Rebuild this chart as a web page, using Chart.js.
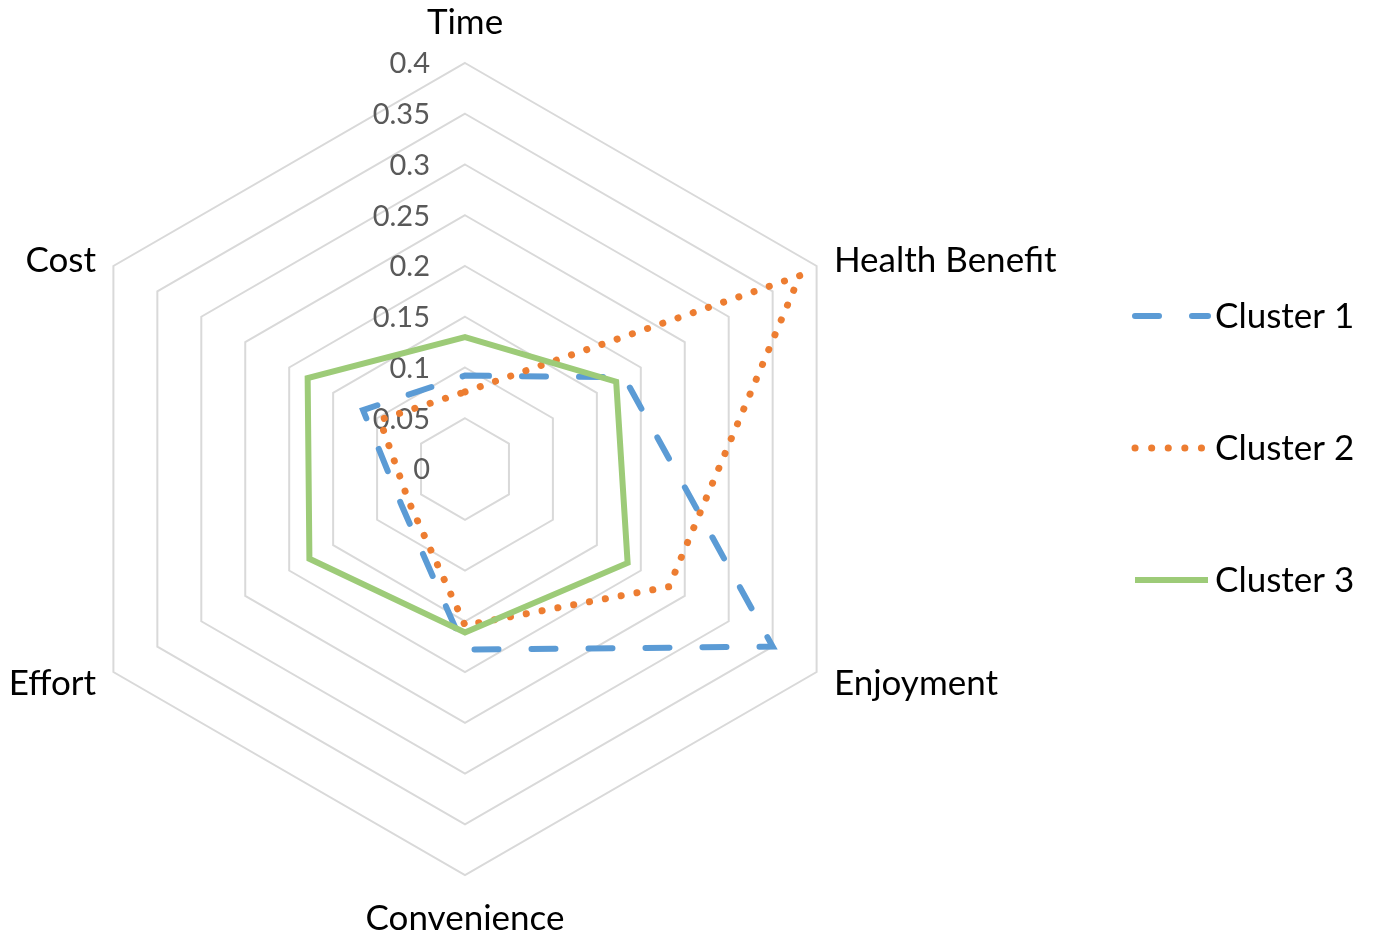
<!DOCTYPE html>
<html>
<head>
<meta charset="utf-8">
<script src="https://cdn.jsdelivr.net/npm/chart.js@4"></script>
<style>
  html, body { margin: 0; padding: 0; background: #ffffff; }
  canvas { display: block; }
</style>
</head>
<body>
<canvas id="radar" width="1373" height="941"></canvas>
<script>
// Axes of the radar, clockwise from the top
const categories = ['Time', 'Health Benefit', 'Enjoyment', 'Convenience', 'Effort', 'Cost'];

// Cluster profiles (same order as categories)
const cluster1 = [0.092, 0.181, 0.350, 0.178, 0.072, 0.116];
const cluster2 = [0.076, 0.381, 0.232, 0.154, 0.064, 0.097];
const cluster3 = [0.130, 0.172, 0.185, 0.161, 0.177, 0.179];

const seriesNames = ['Cluster 1', 'Cluster 2', 'Cluster 3'];

// Radial tick labels
const tickLabels = ['0', '0.05', '0.1', '0.15', '0.2', '0.25', '0.3', '0.35', '0.4'];

const FONT = 'Lato, "Open Sans", "DejaVu Sans", sans-serif';
const LABEL_SIZE = 35;
const TICK_SIZE = 29;

// Radial tick labels, right-aligned just left of the vertical axis
const tickTextPlugin = {
  id: 'tickText',
  beforeDatasetsDraw(chart) {
    const scale = chart.scales.r;
    const ctx = chart.ctx;
    ctx.save();
    ctx.font = `${TICK_SIZE}px ${FONT}`;
    ctx.fillStyle = '#595959';
    ctx.textAlign = 'right';
    ctx.textBaseline = 'middle';
    tickLabels.forEach(t => {
      const d = scale.getDistanceFromCenterForValue(parseFloat(t));
      ctx.fillText(t, scale.xCenter - 35, scale.yCenter - d + 1);
    });
    ctx.restore();
  }
};

// Category labels around the outer ring
const categoryTextPlugin = {
  id: 'categoryText',
  afterDraw(chart) {
    const scale = chart.scales.r;
    const ctx = chart.ctx;
    const outer = scale.drawingArea;
    ctx.save();
    ctx.font = `${LABEL_SIZE}px ${FONT}`;
    ctx.fillStyle = '#000000';
    ctx.textBaseline = 'middle';
    categories.forEach((name, i) => {
      const vertical = (i === 0 || i === 3);
      const p = scale.getPointPosition(i, outer + (vertical ? 41 : 20));
      if (vertical) {
        ctx.textAlign = 'center';
      } else {
        ctx.textAlign = p.x > scale.xCenter ? 'left' : 'right';
      }
      let dy = 0;
      if (!vertical) dy = p.y < scale.yCenter ? 5 : 2;
      else dy = i === 0 ? 1 : 3;
      ctx.fillText(name, p.x, p.y + dy);
    });
    ctx.restore();
  }
};

// Legend on the right, line samples styled like each dataset
const legendPlugin = {
  id: 'sideLegend',
  afterDraw(chart) {
    const ctx = chart.ctx;
    const x0 = 1135, x1 = 1208, tx = 1215;
    const ys = [316, 448, 580];
    ctx.save();
    chart.data.datasets.forEach((ds, i) => {
      const y = ys[i];
      ctx.beginPath();
      ctx.strokeStyle = ds.borderColor;
      ctx.lineWidth = ds.borderWidth;
      ctx.lineCap = ds.borderCapStyle || 'butt';
      ctx.setLineDash(ds.legendDash || ds.borderDash || []);
      ctx.moveTo(x0, y);
      ctx.lineTo(x1, y);
      ctx.stroke();
      ctx.setLineDash([]);
      ctx.font = `${LABEL_SIZE}px ${FONT}`;
      ctx.fillStyle = '#000000';
      ctx.textAlign = 'left';
      ctx.textBaseline = 'middle';
      ctx.fillText(ds.label, tx, y + 1);
    });
    ctx.restore();
  }
};

new Chart(document.getElementById('radar'), {
  type: 'radar',
  data: {
    labels: categories,
    datasets: [
      {
        label: seriesNames[0],
        data: cluster1,
        borderColor: '#5B9BD5',
        borderWidth: 6,
        borderDash: [24, 33],
        legendDash: [24, 33],
        borderCapStyle: 'round',
        borderJoinStyle: 'miter',
        fill: false,
        pointRadius: 0,
        pointHoverRadius: 0,
        order: 3
      },
      {
        label: seriesNames[1],
        data: cluster2,
        borderColor: '#ED7D31',
        borderWidth: 7,
        borderDash: [0.1, 16],
        legendDash: [0.1, 16.5],
        borderCapStyle: 'round',
        borderJoinStyle: 'round',
        fill: false,
        pointRadius: 0,
        pointHoverRadius: 0,
        order: 2
      },
      {
        label: seriesNames[2],
        data: cluster3,
        borderColor: '#9DCB78',
        borderWidth: 6,
        borderCapStyle: 'butt',
        borderJoinStyle: 'miter',
        fill: false,
        pointRadius: 0,
        pointHoverRadius: 0,
        order: 1
      }
    ]
  },
  options: {
    responsive: false,
    animation: false,
    devicePixelRatio: 1,
    layout: { padding: { left: 59, top: 63, right: 502, bottom: 66 } },
    elements: { line: { tension: 0 } },
    plugins: {
      legend: { display: false },
      tooltip: { enabled: false }
    },
    scales: {
      r: {
        min: 0,
        max: 0.4,
        beginAtZero: true,
        ticks: { stepSize: 0.05, display: false },
        pointLabels: { display: false },
        angleLines: { display: false },
        grid: { color: '#D9D9D9', lineWidth: 2 }
      }
    }
  },
  plugins: [tickTextPlugin, categoryTextPlugin, legendPlugin]
});
</script>
</body>
</html>
